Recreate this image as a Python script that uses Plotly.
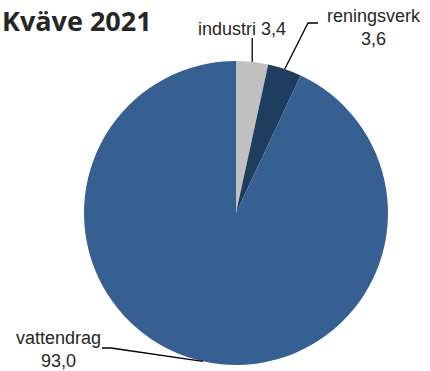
import math
import plotly.graph_objects as go

# Data
title = "Kväve 2021"
categories = ["industri", "reningsverk", "vattendrag"]
values = [3.4, 3.6, 93.0]
value_labels = ["3,4", "3,6", "93,0"]
colors = ["#C0C0C0", "#1F3D5F", "#366092"]

W, H = 430, 371
CX, CY, R = 236, 213, 152  # pie centre and radius in pixels


def px(x):
    return x / W


def py(y):
    return 1 - y / H


def edge_point(i):
    """Point on the pie rim at the middle of slice i (clockwise from 12 o'clock)."""
    total = sum(values)
    start = sum(values[:i])
    mid = (start + values[i] / 2) / total * 2 * math.pi
    return CX + R * math.sin(mid), CY - R * math.cos(mid)


fig = go.Figure(
    go.Pie(
        labels=categories,
        values=values,
        sort=False,
        direction="clockwise",
        rotation=0,
        marker=dict(colors=colors, line=dict(width=0)),
        textinfo="none",
        hoverinfo="label+value",
        showlegend=False,
        domain=dict(x=[px(CX - R), px(CX + R)], y=[py(CY + R), py(CY - R)]),
    )
)

line_style = dict(color="#000000", width=1.3)
shapes = []

# industri: vertical leader
x0, y0 = edge_point(0)
shapes.append(dict(type="line", xref="paper", yref="paper",
                   x0=px(x0), y0=py(y0), x1=px(x0), y1=py(38), line=line_style))

# reningsverk: diagonal plus short horizontal
x1, y1 = edge_point(1)
shapes.append(dict(type="path", xref="paper", yref="paper",
                   path=f"M {px(x1)} {py(y1)} L {px(308)} {py(23)} L {px(318)} {py(23)}",
                   line=line_style))

# vattendrag: diagonal plus short horizontal
x2, y2 = edge_point(2)
shapes.append(dict(type="path", xref="paper", yref="paper",
                   path=f"M {px(x2)} {py(y2)} L {px(111)} {py(348)} L {px(102)} {py(348)}",
                   line=line_style))

label_font = dict(family="Liberation Sans, Arial, sans-serif", size=18, color="#262626")

annotations = [
    dict(text=title, x=px(0), y=py(0), xref="paper", yref="paper",
         xanchor="left", yanchor="top", showarrow=False,
         font=dict(family="Open Sans", size=27, color="#262626", weight="bold")),
    dict(text=f"{categories[0]} {value_labels[0]}", x=px(242), y=py(29),
         xref="paper", yref="paper", xanchor="center", yanchor="middle",
         showarrow=False, font=label_font),
    dict(text=f"{categories[1]}<br>{value_labels[1]}", x=px(374), y=py(27),
         xref="paper", yref="paper", xanchor="center", yanchor="middle",
         showarrow=False, font=label_font, align="center"),
    dict(text=f"{categories[2]}<br>{value_labels[2]}", x=px(58), y=py(349),
         xref="paper", yref="paper", xanchor="center", yanchor="middle",
         showarrow=False, font=label_font, align="center"),
]

fig.update_layout(
    width=W, height=H,
    margin=dict(l=0, r=0, t=0, b=0),
    paper_bgcolor="white",
    plot_bgcolor="white",
    shapes=shapes,
    annotations=annotations,
)

fig.write_html("out.html")
